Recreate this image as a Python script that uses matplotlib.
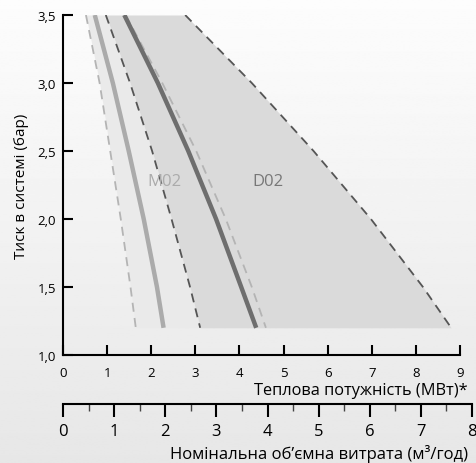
import numpy as np
import matplotlib
matplotlib.use("Agg")
import matplotlib.pyplot as plt
from matplotlib.ticker import FixedLocator, FuncFormatter, MultipleLocator

plt.rcParams['font.family'] = ['Open Sans', 'DejaVu Sans']

# Data (pressure in bar vs heat output in MW)
pressure = [3.5, 3.0, 2.5, 2.0, 1.5, 1.2]
m02_min = [0.52, 0.83, 1.07, 1.31, 1.53, 1.65]
m02_nom = [0.72, 1.13, 1.49, 1.83, 2.13, 2.28]
m02_max = [0.97, 1.52, 2.02, 2.46, 2.88, 3.11]   # also D02 minimum
d02_nom = [1.39, 2.15, 2.84, 3.47, 4.04, 4.38]
d02_alt = [1.42, 2.25, 3.02, 3.69, 4.28, 4.60]
d02_max = [2.77, 4.28, 5.68, 6.98, 8.16, 8.80]

x_ticks = list(range(0, 10))
y_ticks = [1.0, 1.5, 2.0, 2.5, 3.0, 3.5]
flow_ticks = list(range(0, 9))

W, H = 476, 464
fig = plt.figure(figsize=(W / 100, H / 100), dpi=100)

# gradient background
bg = fig.add_axes([0, 0, 1, 1], zorder=-10)
grad = np.linspace(0.99, 0.905, 256).reshape(-1, 1)
bg.imshow(grad, aspect='auto', cmap='gray', vmin=0, vmax=1, extent=[0, 1, 0, 1])
bg.set_axis_off()

L, R, T, B = 63, 460, 16, 356
ax = fig.add_axes([L / W, 1 - B / H, (R - L) / W, (B - T) / H])
ax.set_facecolor('none')

ax.fill_betweenx(pressure, m02_min, m02_max, color='#eaeaea', lw=0, zorder=1)
ax.fill_betweenx(pressure, m02_max, d02_max, color='#dadada', lw=0, zorder=1)

ax.plot(m02_min, pressure, color='#b4b4b4', lw=1.3, ls=(0, (5, 3.5)), zorder=3)
ax.plot(m02_nom, pressure, color='#ababab', lw=3.2, zorder=3, solid_capstyle='butt')
ax.plot(m02_max, pressure, color='#555555', lw=1.3, ls=(0, (5, 3.5)), zorder=3)
ax.plot(d02_alt, pressure, color='#b4b4b4', lw=1.3, ls=(0, (5, 3.5)), zorder=3)
ax.plot(d02_nom, pressure, color='#6e6e6e', lw=3.2, zorder=4, solid_capstyle='butt')
ax.plot(d02_max, pressure, color='#555555', lw=1.3, ls=(0, (5, 3.5)), zorder=3)

ax.text(2.3, 2.28, 'M02', color='#ababab', fontsize=12, ha='center', va='center', zorder=5)
ax.text(4.64, 2.28, 'D02', color='#777777', fontsize=12, ha='center', va='center', zorder=5)

ax.set_xlim(0, 9)
ax.set_ylim(1.0, 3.5)
for s in ['top', 'right']:
    ax.spines[s].set_visible(False)
for s in ['left', 'bottom']:
    ax.spines[s].set_linewidth(1.5)
    ax.spines[s].set_color('black')

ax.xaxis.set_major_locator(FixedLocator(x_ticks))
ax.yaxis.set_major_locator(FixedLocator(y_ticks))
ax.yaxis.set_major_formatter(FuncFormatter(lambda v, p: f'{v:.1f}'.replace('.', ',')))
ax.tick_params(axis='both', direction='in', length=7, width=1.5, color='black')
ax.tick_params(axis='y', labelsize=9.5, pad=5)
ax.tick_params(axis='x', labelsize=9.5, pad=8)

ax.set_ylabel('Тиск в системі (бар)', fontsize=11, labelpad=6)
fig.text(468 / W, 1 - 391 / H, 'Теплова потужність (МВт)*', fontsize=11.8,
         ha='right', va='center')

# second (flow) axis
L2, R2, Y2 = 63, 472, 405
ax2 = fig.add_axes([L2 / W, 1 - Y2 / H, (R2 - L2) / W, 0.001])
ax2.set_facecolor('none')
for s in ['top', 'right', 'left']:
    ax2.spines[s].set_visible(False)
ax2.spines['bottom'].set_linewidth(1.5)
ax2.set_xlim(0, 8)
ax2.set_yticks([])
ax2.xaxis.set_major_locator(FixedLocator(flow_ticks))
ax2.xaxis.set_minor_locator(MultipleLocator(0.5))
ax2.tick_params(axis='x', which='major', direction='out', length=9, width=1.5, labelsize=12, pad=5)
ax2.tick_params(axis='x', which='minor', direction='out', length=5, width=1.0, color='#444444')
fig.text(468 / W, 1 - 454 / H, 'Номінальна об\u02bcємна витрата (м³/год)', fontsize=12,
         ha='right', va='center')

fig.savefig('out.png', dpi=100)
